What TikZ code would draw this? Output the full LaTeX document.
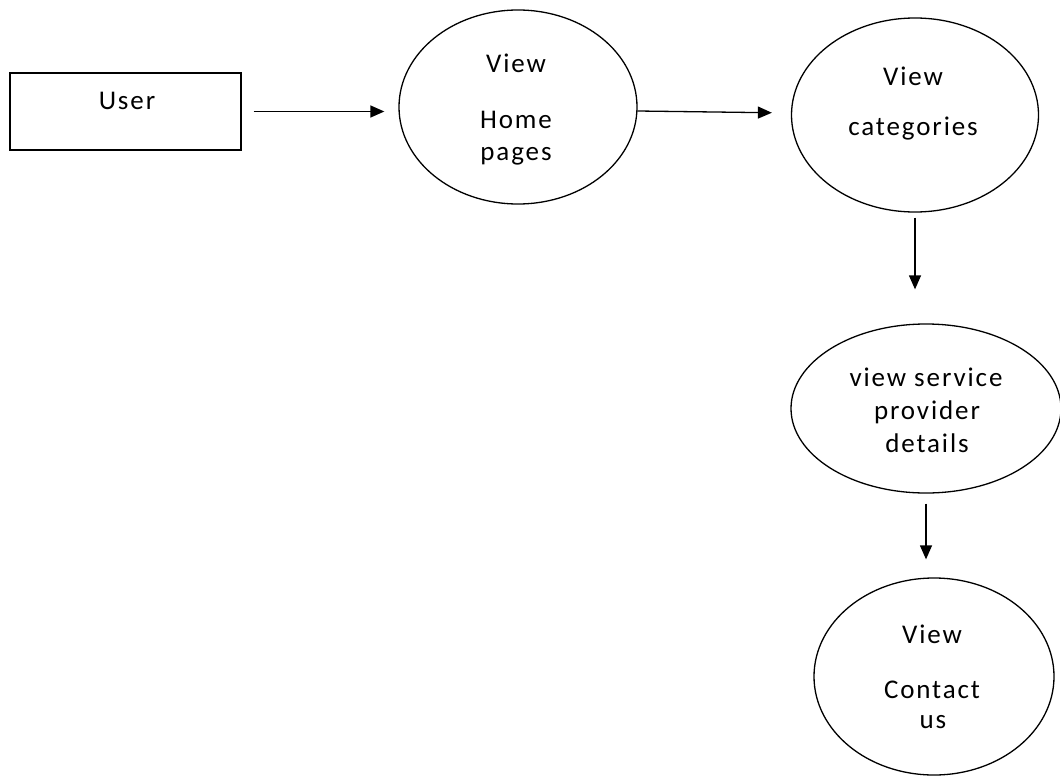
\documentclass[tikz,border=0pt]{standalone}
\usepackage{fontspec}
\setmainfont{Carlito}[LetterSpace=7]
\usetikzlibrary{shapes.geometric,arrows.meta}
\tikzset{
  proc/.style={draw, ellipse, line width=1.3pt, inner sep=0pt},
  ent/.style={draw, rectangle, line width=1.3pt, inner sep=0pt},
  lbl/.style={anchor=base, inner sep=0pt, font=\fontsize{27}{32}\selectfont, text=black},
  flow/.style={line width=1.3pt, -{Triangle[length=14pt,width=12pt]}},
}
\begin{document}
\begin{tikzpicture}[x=1pt,y=-1pt]
\useasboundingbox (0,0) rectangle (1060,776);
% shapes
\node[ent, minimum width=231pt, minimum height=77pt] (user) at (125.5,111.5) {};
\node[proc, minimum width=238pt, minimum height=194pt] (home) at (518,107) {};
\node[proc, minimum width=247pt, minimum height=194pt] (cat) at (915,115) {};
\node[proc, minimum width=270pt, minimum height=169pt] (spd) at (926,408.5) {};
\node[proc, minimum width=240pt, minimum height=197pt] (contact) at (934,676.5) {};
% labels
\node[lbl] (tuser) at (127,110) {User};
\node[lbl] (th1) at (516,73) {View};
\node[lbl] (th2) at (516,128) {Home};
\node[lbl] (th3) at (516,160) {pages};
\node[lbl] (tc1) at (913,85) {View};
\node[lbl] (tc2) at (913,135) {categories};
\node[lbl] (ts1) at (926,386) {view service};
\node[lbl] (ts2) at (927,419) {provider};
\node[lbl] (ts3) at (927,452) {details};
\node[lbl] (tk1) at (932,643) {View};
\node[lbl] (tk2) at (932,698) {Contact};
\node[lbl] (tk3) at (933,728) {us};
% connectors
\draw[flow, shorten <=12pt, shorten >=14pt] (user.east) -- (home.west |- user.east);
\draw[flow, shorten >=19pt] ([yshift=-4pt]home.east) -- ([yshift=2pt]cat.west);
\draw[flow, shorten <=5pt, shorten >=34pt] (cat.south) -- (cat.south |- spd.north);
\draw[flow, shorten <=10pt, shorten >=18pt] (spd.south) -- (spd.south |- contact.north);
\end{tikzpicture}
\end{document}
